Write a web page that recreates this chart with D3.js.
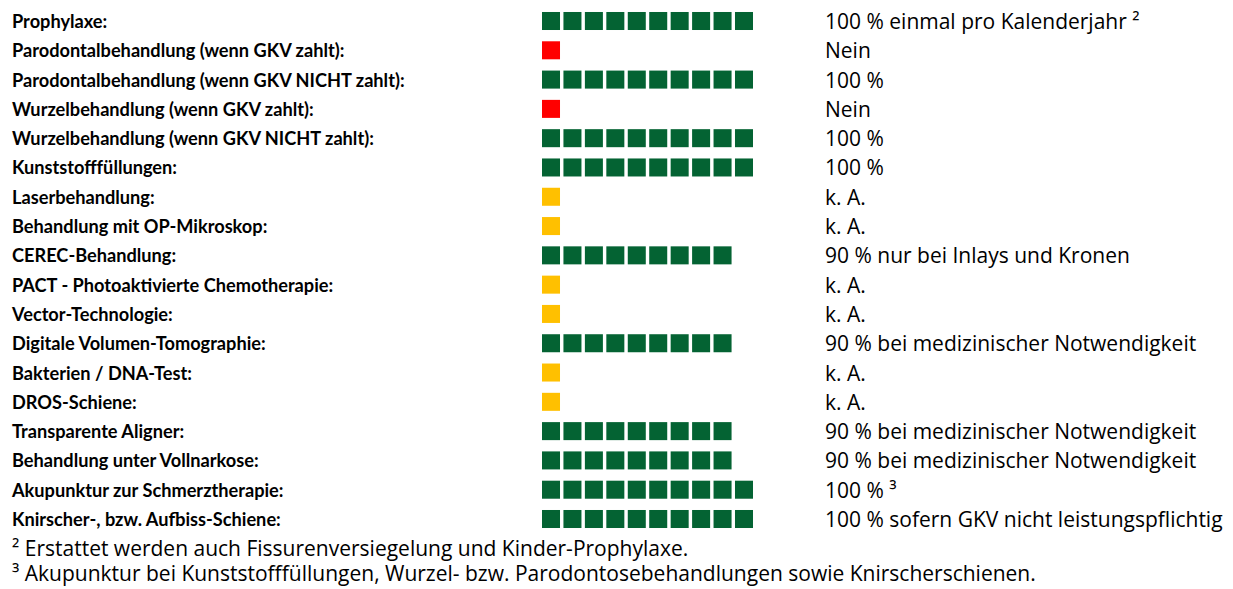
<!DOCTYPE html>
<html>
<head>
<meta charset="utf-8">
<script src="https://cdn.jsdelivr.net/npm/d3@7"></script>
<style>
  body { margin: 0; background: #fff; }
  text { fill: #000; }
  .label { font-family: Lato, sans-serif; font-weight: bold; font-size: 18.2px; }
  .note { font-family: "Open Sans", sans-serif; font-size: 21px; }
  .foot { font-family: "Open Sans", sans-serif; font-size: 21px; }
</style>
</head>
<body>
<svg id="chart" width="1233" height="589"></svg>
<script>
// rows of the table
const categories = [
  "Prophylaxe:",
  "Parodontalbehandlung (wenn GKV zahlt):",
  "Parodontalbehandlung (wenn GKV NICHT zahlt):",
  "Wurzelbehandlung (wenn GKV zahlt):",
  "Wurzelbehandlung (wenn GKV NICHT zahlt):",
  "Kunststofffüllungen:",
  "Laserbehandlung:",
  "Behandlung mit OP-Mikroskop:",
  "CEREC-Behandlung:",
  "PACT - Photoaktivierte Chemotherapie:",
  "Vector-Technologie:",
  "Digitale Volumen-Tomographie:",
  "Bakterien / DNA-Test:",
  "DROS-Schiene:",
  "Transparente Aligner:",
  "Behandlung unter Vollnarkose:",
  "Akupunktur zur Schmerztherapie:",
  "Knirscher-, bzw. Aufbiss-Schiene:"
];

// number of squares per row
const squares = [10, 1, 10, 1, 10, 10, 1, 1, 9, 1, 1, 9, 1, 1, 9, 9, 10, 10];

// status per row: ok = covered, no = not covered, na = keine Angabe
const status = ["ok", "no", "ok", "no", "ok", "ok", "na", "na", "ok", "na", "na", "ok", "na", "na", "ok", "ok", "ok", "ok"];

const notes = [
  "100 % einmal pro Kalenderjahr ²",
  "Nein",
  "100 %",
  "Nein",
  "100 %",
  "100 %",
  "k. A.",
  "k. A.",
  "90 % nur bei Inlays und Kronen",
  "k. A.",
  "k. A.",
  "90 % bei medizinischer Notwendigkeit",
  "k. A.",
  "k. A.",
  "90 % bei medizinischer Notwendigkeit",
  "90 % bei medizinischer Notwendigkeit",
  "100 % ³",
  "100 % sofern GKV nicht leistungspflichtig"
];

const footnotes = [
  "² Erstattet werden auch Fissurenversiegelung und Kinder-Prophylaxe.",
  "³ Akupunktur bei Kunststofffüllungen, Wurzel- bzw. Parodontosebehandlungen sowie Knirscherschienen."
];

const slots = d3.range(10);

const svg = d3.select("#chart");

// scales
const y = d3.scalePoint().domain(categories).range([21, 519]);
const x = d3.scaleBand().domain(slots).range([542, 753]).paddingInner(0.16);
const color = d3.scaleOrdinal()
  .domain(["ok", "no", "na"])
  .range(["#046333", "#ff0000", "#ffc000"]);

const labelX = 12, noteX = 825;

const rows = svg.selectAll("g.row")
  .data(categories)
  .join("g")
  .attr("class", "row");

rows.append("text")
  .attr("class", "label")
  .attr("x", labelX)
  .attr("y", d => y(d) + 7)
  .text(d => d);

rows.each(function (d, i) {
  d3.select(this).selectAll("rect")
    .data(slots.slice(0, squares[i]))
    .join("rect")
    .attr("x", s => x(s))
    .attr("y", y(d) - x.bandwidth() / 2)
    .attr("width", x.bandwidth())
    .attr("height", x.bandwidth())
    .attr("fill", color(status[i]));
});

rows.append("text")
  .attr("class", "note")
  .attr("x", noteX)
  .attr("y", d => y(d) + 8)
  .text((d, i) => notes[i]);

svg.selectAll("text.foot")
  .data(footnotes)
  .join("text")
  .attr("class", "foot")
  .attr("x", labelX)
  .attr("y", (d, i) => 556 + i * 25)
  .text(d => d);
</script>
</body>
</html>
